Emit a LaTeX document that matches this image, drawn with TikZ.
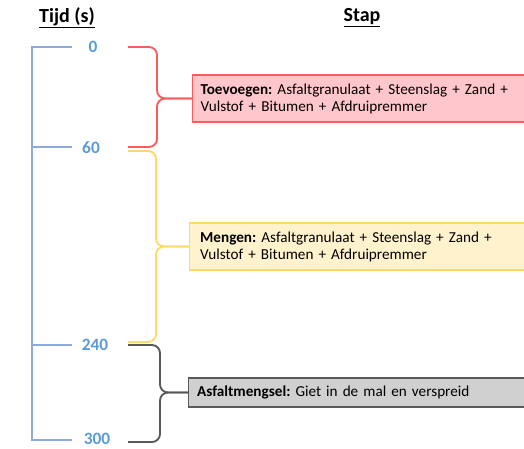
\documentclass[tikz,border=0pt]{standalone}
\usepackage{fontspec}
\setmainfont{Carlito}
\frenchspacing
\definecolor{axisblue}{HTML}{8EA9DB}
\definecolor{numblue}{HTML}{5B9BD5}
\definecolor{redline}{HTML}{FF5B5B}
\definecolor{redfill}{HTML}{FFC7CB}
\definecolor{yelline}{HTML}{FFD966}
\definecolor{yelfill}{HTML}{FFF2CC}
\definecolor{grayline}{HTML}{595959}
\definecolor{grayfill}{HTML}{D0D0D0}
\begin{document}
\begin{tikzpicture}[x=0.75pt,y=-0.75pt,
  titlelabel/.style={font=\fontsize{15}{18}\selectfont\bfseries, inner sep=0pt},
  numlabel/.style={font=\fontsize{13}{15}\selectfont\bfseries, text=numblue, inner sep=0pt},
  axisline/.style={draw=axisblue, line width=1.2pt},
  stepbox/.style={anchor=west, line width=0.8pt, text width=300pt, align=left,
    inner ysep=0pt, font=\fontsize{11.4}{12.75}\selectfont},
  bracepath/.style={line width=1.4pt, rounded corners=6pt}
]
\useasboundingbox (0,0) rectangle (524,449);
\clip (0,0) rectangle (524,449);

% titles
\node[titlelabel] (tijd) at (67,18) {\underline{Tijd (s)}};
\node[titlelabel] (stap) at (362,18) {\underline{Stap}};

% time axis
\coordinate (a0) at (32,47);
\coordinate (a60) at (32,147);
\coordinate (a240) at (32,345);
\coordinate (a300) at (32,440);
\coordinate (e0) at (72,47);
\coordinate (e60) at (72,147);
\coordinate (e240) at (72,345);
\coordinate (e300) at (72,440);
\draw[axisline] (e0) -- (a0) -- (a300) -- (e300);
\draw[axisline] (a60) -- (e60);
\draw[axisline] (a240) -- (e240);

\node[numlabel] (n0) at (93,47) {0};
\node[numlabel] (n60) at (91,148) {60};
\node[numlabel] (n240) at (95,345) {240};
\node[numlabel] (n300) at (97,438.5) {300};

% step boxes
\node[stepbox, fill=redfill, draw=redline, minimum height=35.25pt, inner xsep=6pt] (toev) at (192,98.5)
  {\textbf{Toevoegen:} Asfaltgranulaat + Steenslag + Zand +\\ Vulstof + Bitumen + Afdruipremmer};
\node[stepbox, fill=yelfill, draw=yelline, minimum height=35.25pt, inner xsep=8pt] (meng) at (189,246.5)
  {\textbf{Mengen:} Asfaltgranulaat + Steenslag + Zand +\\ Vulstof + Bitumen + Afdruipremmer};
\node[stepbox, fill=grayfill, draw=grayline, minimum height=21.75pt, inner xsep=6.5pt] (asf) at (188,392.5)
  {\textbf{Asfaltmengsel:} Giet in de mal en verspreid};

% braces
\coordinate (rt) at (128,47);
\coordinate (rb) at (128,147);
\coordinate (yt) at (128,151);
\coordinate (yb) at (128,342);
\coordinate (gt) at (128,345);
\coordinate (gb) at (128,442);

\draw[bracepath, draw=redline] (rt) -- (157,47) |- (toev.west);
\draw[bracepath, draw=redline] (toev.west) -| (157,147) -- (rb);
\draw[bracepath, draw=yelline] (yt) -- (156,151) |- (meng.west);
\draw[bracepath, draw=yelline] (meng.west) -| (156,342) -- (yb);
\draw[bracepath, draw=grayline] (gt) -- (160,345) |- (asf.west);
\draw[bracepath, draw=grayline] (asf.west) -| (160,442) -- (gb);
\end{tikzpicture}
\end{document}
